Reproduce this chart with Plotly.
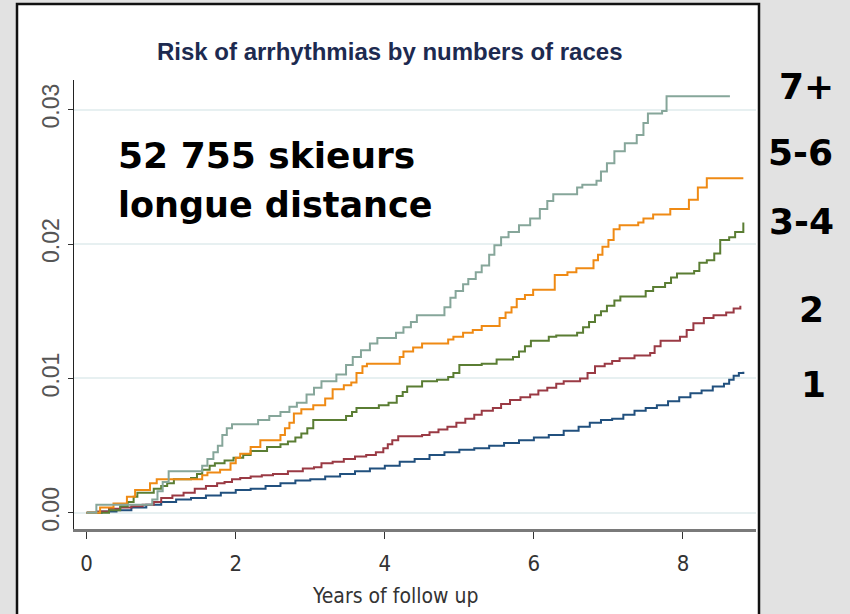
import plotly.graph_objects as go

# ---------------- data ----------------
x_ticks = [0, 2, 4, 6, 8]
y_ticks = [0.0, 0.01, 0.02, 0.03]
y_tick_labels = ["0.00", "0.01", "0.02", "0.03"]

group_labels = ["1", "2", "3-4", "5-6", "7+"]

navy_t = [0.00, 0.20, 0.40, 0.60, 0.80, 1.00, 1.20, 1.40, 1.60, 1.80, 2.00, 2.20, 2.40, 2.60, 2.80, 3.00, 3.20,
          3.40, 3.60, 3.80, 4.00, 4.20, 4.40, 4.60, 4.80, 5.00, 5.20, 5.40, 5.60, 5.80, 6.00, 6.20, 6.40, 6.60,
          6.75, 6.90, 7.05, 7.20, 7.35, 7.50, 7.65, 7.80, 7.95, 8.10, 8.25, 8.40, 8.55, 8.62, 8.68, 8.75, 8.81]
navy_v = [0.0, 0.0001, 0.0002, 0.0004, 0.0006, 0.0008, 0.0010, 0.0011, 0.0013, 0.0015, 0.0017, 0.0018, 0.0020,
          0.0022, 0.0024, 0.0025, 0.0027, 0.0029, 0.0031, 0.0033, 0.0035, 0.0038, 0.0040, 0.0043, 0.0045, 0.0047,
          0.0048, 0.0050, 0.0052, 0.0054, 0.0056, 0.0058, 0.0061, 0.0064, 0.0067, 0.0069, 0.0070, 0.0073, 0.0076,
          0.0078, 0.0080, 0.0083, 0.0086, 0.0089, 0.0091, 0.0094, 0.0096, 0.0099, 0.0102, 0.0104, 0.0105]

maroon_t = [0.00, 0.15, 0.30, 0.45, 0.60, 0.75, 0.90, 1.00, 1.15, 1.30, 1.45, 1.60, 1.75, 1.85, 1.95, 2.06, 2.20,
            2.35, 2.50, 2.70, 2.90, 3.05, 3.15, 3.30, 3.45, 3.60, 3.75, 3.88, 3.98, 4.04, 4.10, 4.18, 4.50, 4.60,
            4.72, 4.84, 4.96, 5.08, 5.20, 5.30, 5.45, 5.56, 5.68, 5.82, 5.95, 6.06, 6.18, 6.30, 6.40, 6.62, 6.72,
            6.82, 6.95, 7.05, 7.15, 7.35, 7.56, 7.62, 7.70, 7.96, 8.05, 8.14, 8.28, 8.41, 8.58, 8.68, 8.77]
maroon_v = [0.0, 0.0001, 0.0003, 0.0004, 0.0005, 0.0006, 0.0008, 0.0011, 0.0013, 0.0015, 0.0018, 0.0020, 0.0022,
            0.0023, 0.0025, 0.0026, 0.0027, 0.0028, 0.0029, 0.0031, 0.0033, 0.0034, 0.0037, 0.0038, 0.0040, 0.0042,
            0.0043, 0.0045, 0.0048, 0.0051, 0.0054, 0.0057, 0.0058, 0.0060, 0.0062, 0.0064, 0.0067, 0.0070, 0.0073,
            0.0076, 0.0078, 0.0081, 0.0084, 0.0086, 0.0088, 0.0091, 0.0093, 0.0096, 0.0098, 0.0100, 0.0104, 0.0109,
            0.0111, 0.0113, 0.0115, 0.0117, 0.0119, 0.0124, 0.0128, 0.0131, 0.0136, 0.0141, 0.0145, 0.0147, 0.0149,
            0.0152, 0.0154]

green_t = [0.00, 0.30, 0.45, 0.55, 0.63, 0.68, 0.90, 1.00, 1.08, 1.17, 1.40, 1.48, 1.55, 1.65, 1.72, 1.85, 1.97,
           2.10, 2.20, 2.42, 2.60, 2.70, 2.80, 2.88, 2.96, 3.04, 3.48, 3.56, 3.62, 3.92, 4.05, 4.16, 4.24, 4.30,
           4.50, 4.70, 4.85, 4.92, 5.00, 5.30, 5.50, 5.72, 5.80, 5.88, 5.96, 6.20, 6.30, 6.58, 6.66, 6.74, 6.82,
           6.90, 6.98, 7.08, 7.16, 7.50, 7.60, 7.76, 7.84, 7.92, 8.15, 8.22, 8.32, 8.42, 8.50, 8.62, 8.70, 8.81]
green_v = [0.0, 0.0002, 0.0005, 0.0008, 0.0012, 0.0015, 0.0018, 0.0020, 0.0022, 0.0025, 0.0026, 0.0029, 0.0032,
           0.0035, 0.0037, 0.0039, 0.0041, 0.0043, 0.0046, 0.0049, 0.0051, 0.0053, 0.0056, 0.0059, 0.0063, 0.0069,
           0.0072, 0.0075, 0.0078, 0.0080, 0.0082, 0.0087, 0.0090, 0.0094, 0.0098, 0.0099, 0.0101, 0.0104, 0.0110,
           0.0111, 0.0114, 0.0116, 0.0120, 0.0124, 0.0128, 0.0131, 0.0132, 0.0134, 0.0138, 0.0142, 0.0147, 0.0150,
           0.0154, 0.0158, 0.0161, 0.0165, 0.0168, 0.0171, 0.0175, 0.0178, 0.0180, 0.0186, 0.0188, 0.0193, 0.0203,
           0.0205, 0.0209, 0.0216]

orange_t = [0.00, 0.18, 0.36, 0.54, 0.65, 0.85, 0.94, 1.55, 1.62, 1.79, 1.93, 2.00, 2.06, 2.20, 2.33, 2.60, 2.66,
            2.72, 2.78, 2.88, 3.04, 3.20, 3.30, 3.45, 3.55, 3.62, 3.70, 3.76, 4.20, 4.25, 4.38, 4.50, 4.85, 4.92,
            5.05, 5.18, 5.30, 5.54, 5.62, 5.70, 5.77, 5.88, 5.99, 6.28, 6.45, 6.57, 6.80, 6.86, 6.92, 7.00, 7.07,
            7.15, 7.40, 7.47, 7.60, 7.83, 8.08, 8.20, 8.32, 8.81]
orange_v = [0.0, 0.0004, 0.0007, 0.0012, 0.0017, 0.0022, 0.0025, 0.0028, 0.0030, 0.0032, 0.0037, 0.0041, 0.0044,
            0.0049, 0.0054, 0.0058, 0.0063, 0.0067, 0.0074, 0.0077, 0.0080, 0.0085, 0.0092, 0.0095, 0.0097, 0.0104,
            0.0109, 0.0111, 0.0116, 0.0120, 0.0123, 0.0126, 0.0129, 0.0131, 0.0134, 0.0136, 0.0139, 0.0145, 0.0149,
            0.0153, 0.0159, 0.0162, 0.0166, 0.0177, 0.0179, 0.0182, 0.0188, 0.0192, 0.0198, 0.0203, 0.0211, 0.0214,
            0.0216, 0.0219, 0.0222, 0.0226, 0.0233, 0.0242, 0.0249, 0.0249]

teal_t = [0.00, 0.13, 0.88, 0.95, 1.02, 1.10, 1.55, 1.62, 1.70, 1.76, 1.82, 1.88, 1.95, 2.30, 2.45, 2.60, 2.72,
          2.82, 2.95, 3.05, 3.15, 3.35, 3.48, 3.57, 3.68, 3.80, 3.90, 4.15, 4.25, 4.35, 4.43, 4.80, 4.88, 4.95,
          5.05, 5.12, 5.22, 5.30, 5.40, 5.47, 5.56, 5.66, 5.80, 5.95, 6.08, 6.18, 6.26, 6.58, 6.65, 6.84, 6.90,
          6.98, 7.08, 7.22, 7.38, 7.47, 7.53, 7.72, 7.78, 8.63]
teal_v = [0.0, 0.0006, 0.0010, 0.0016, 0.0023, 0.0031, 0.0035, 0.0040, 0.0045, 0.0050, 0.0058, 0.0063, 0.0066,
          0.0069, 0.0072, 0.0075, 0.0079, 0.0082, 0.0088, 0.0093, 0.0098, 0.0103, 0.0110, 0.0116, 0.0121, 0.0126,
          0.0130, 0.0134, 0.0138, 0.0142, 0.0147, 0.0153, 0.0160, 0.0165, 0.0170, 0.0174, 0.0179, 0.0184, 0.0192,
          0.0199, 0.0205, 0.0209, 0.0214, 0.0219, 0.0226, 0.0232, 0.0237, 0.0242, 0.0244, 0.0247, 0.0254, 0.0260,
          0.0269, 0.0275, 0.0281, 0.0290, 0.0297, 0.0299, 0.0310, 0.0310]

series_t = [navy_t, maroon_t, green_t, orange_t, teal_t]
series_v = [navy_v, maroon_v, green_v, orange_v, teal_v]
series_colors = ["#21507e", "#9a3a44", "#5a7d33", "#ef8a14", "#86a69a"]

title_text = "Risk of arrhythmias by numbers of races"
x_title = "Years of follow up"
note_lines = ["52 755 skieurs", "longue distance"]

# ---------------- figure ----------------
NARROW = "Liberation Sans Narrow, Arial Narrow, DejaVu Sans Condensed, Roboto Condensed, Liberation Sans, Arial"
COMIC = "Comic Sans MS, DejaVu Sans, Verdana, sans-serif"

fig = go.Figure()
for name, t, v, c in zip(group_labels, series_t, series_v, series_colors):
    fig.add_trace(go.Scatter(x=t, y=v, mode="lines", name=name,
                             line=dict(color=c, width=2, shape="hv"),
                             showlegend=False, hoverinfo="skip"))

# plot area: x 74..756 px, y 80..529 px
L, R, T, B = 74, 756, 80, 529
W, H = 850, 614


def px(xp):
    return (xp - L) / (R - L)


def py(yp):
    return (B - yp) / (B - T)


# white panel with dark border
fig.add_shape(type="rect", xref="paper", yref="paper",
              x0=px(17), x1=px(759), y0=py(640), y1=py(4),
              fillcolor="white", line=dict(color="#111111", width=2.5), layer="below")

fig.update_layout(
    width=W, height=H,
    margin=dict(l=L, r=W - R, t=T, b=H - B, pad=0, autoexpand=False),
    paper_bgcolor="#e2e2e2",
    plot_bgcolor="white",
    showlegend=False,
)

fig.update_xaxes(
    range=[-0.17, 8.98],
    tickvals=x_ticks,
    ticktext=[str(v) for v in x_ticks],
    showgrid=False, zeroline=False,
    showline=True, linecolor="#7a7a7a", linewidth=2.5,
    ticks="outside", ticklen=7, tickwidth=1, tickcolor="#333333",
    tickfont=dict(family=NARROW, size=22, color="#333333"),
    ticklabelstandoff=6,
)
fig.update_yaxes(
    range=[-0.0012, 0.0322],
    tickvals=y_ticks,
    ticktext=y_tick_labels,
    tickangle=-90,
    showgrid=True, gridcolor="#e7f0f1", gridwidth=1.5,
    zeroline=False,
    showline=True, linecolor="#222222", linewidth=1,
    ticks="outside", ticklen=5, tickwidth=1, tickcolor="#333333",
    tickfont=dict(family="Liberation Sans, Arial", size=23, color="#555555"),
)

annotations = [
    dict(text=title_text, x=px(390), y=py(51), xref="paper", yref="paper",
         xanchor="center", yanchor="middle", showarrow=False,
         font=dict(family="Liberation Sans, Arial", size=24, color="#1d2a50", weight="bold")),
    dict(text=x_title, x=px(395), y=py(596), xref="paper", yref="paper",
         xanchor="center", yanchor="middle", showarrow=False,
         font=dict(family=NARROW, size=21, color="#333333")),
    dict(text=note_lines[0], x=px(116), y=py(155), xref="paper", yref="paper",
         xanchor="left", yanchor="middle", showarrow=False,
         font=dict(family=COMIC, size=36, color="black", weight="bold")),
    dict(text=note_lines[1], x=px(116), y=py(205), xref="paper", yref="paper",
         xanchor="left", yanchor="middle", showarrow=False,
         font=dict(family=COMIC, size=35, color="black", weight="bold")),
]

right_pos = {"7+": (806, 86), "5-6": (800, 152), "3-4": (801, 221), "2": (811, 309), "1": (813, 384)}
for lab in group_labels:
    xp, yp = right_pos[lab]
    annotations.append(dict(text=lab, x=px(xp), y=py(yp), xref="paper", yref="paper",
                            xanchor="center", yanchor="middle", showarrow=False,
                            font=dict(family=COMIC, size=36, color="black", weight="bold")))

fig.update_layout(annotations=annotations)

fig.write_html("out.html",
               config={"displayModeBar": False},
               post_script="document.body.style.margin='0px';document.body.style.padding='0px';")
